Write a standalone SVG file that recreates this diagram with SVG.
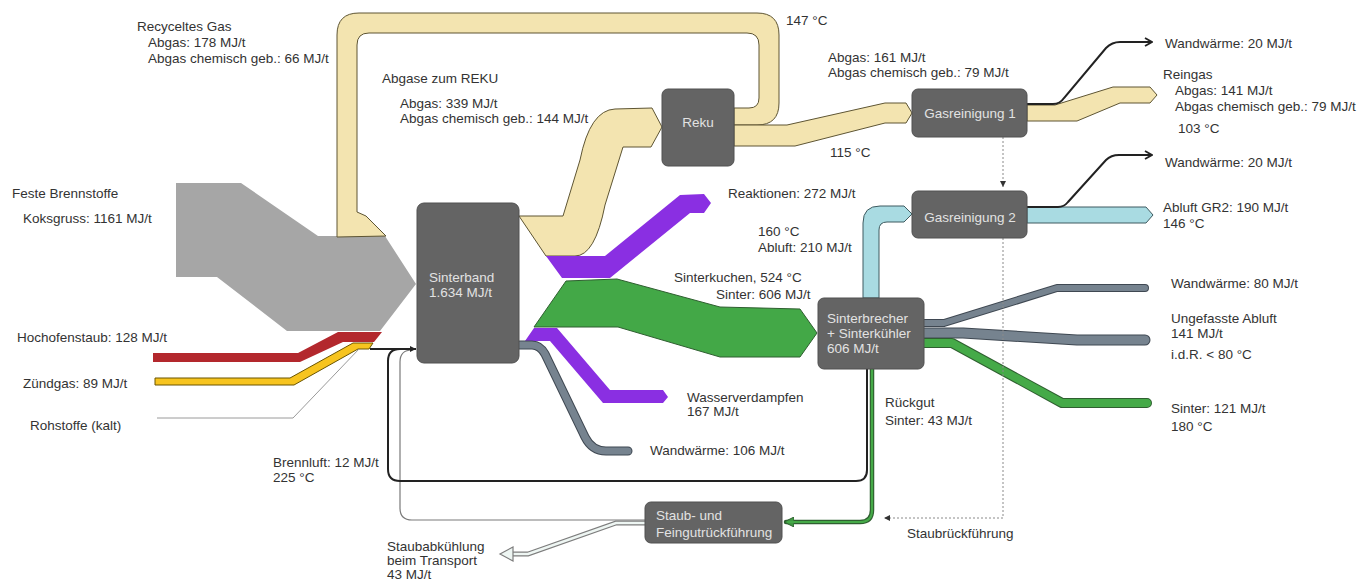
<svg xmlns="http://www.w3.org/2000/svg" width="1360" height="584" viewBox="0 0 1360 584">
  <style>
    text { font-family: "Liberation Sans", Arial, sans-serif; font-size: 13.5px; fill: #333; }
    .node rect { fill: #646464; stroke: #505050; stroke-width: 1; }
    .node text { fill: #e2e2e2; }
    .beige { fill: #f3e4b0; stroke: #5e5533; stroke-width: 1; }
    .purple { fill: #8a2fe2; }
    .green { fill: #43a847; stroke: #2f5f30; stroke-width: 1; }
    .blue { fill: #a9dbe2; stroke: #3f5b60; stroke-width: 1; }
    .slate-o { fill: none; stroke: #3f4852; stroke-linecap: round; stroke-linejoin: round; }
    .slate-i { fill: none; stroke: #76838f; stroke-linecap: round; stroke-linejoin: round; }
    .green-o { fill: none; stroke: #2f5f30; stroke-linecap: round; stroke-linejoin: round; }
    .green-i { fill: none; stroke: #45aa48; stroke-linecap: round; stroke-linejoin: round; }
    .black { fill: none; stroke: #222; stroke-width: 2; }
    .dots { fill: none; stroke: #8a8a8a; stroke-width: 1; stroke-dasharray: 2 2; }
  </style>
  <defs>
    <marker id="chev" viewBox="0 0 10 10" refX="9" refY="5" markerWidth="10" markerHeight="10" markerUnits="userSpaceOnUse" orient="auto">
      <path d="M2,1 L9,5 L2,9" fill="none" stroke="#222" stroke-width="1.8"/>
    </marker>
    <marker id="tri" viewBox="0 0 10 10" refX="10" refY="5" markerWidth="6" markerHeight="6" markerUnits="userSpaceOnUse" orient="auto">
      <path d="M0,0 L10,5 L0,10 Z" fill="#222"/>
    </marker>
    <marker id="triGrey" viewBox="0 0 10 10" refX="10" refY="5" markerWidth="6" markerHeight="6" markerUnits="userSpaceOnUse" orient="auto">
      <path d="M0,0 L10,5 L0,10 Z" fill="#333"/>
    </marker>
    <marker id="triGreen" viewBox="0 0 10 10" refX="8" refY="5" markerWidth="10" markerHeight="10" markerUnits="userSpaceOnUse" orient="auto">
      <path d="M0,0 L10,5 L0,10 Z" fill="#3f9a42" stroke="#2f5f30" stroke-width="1"/>
    </marker>
  </defs>

  <rect x="0" y="0" width="1360" height="584" fill="#ffffff"/>

  <g id="connectors">
    <!-- solid fuel inflow -->
    <polygon points="176,183 241,183 318,236 385,236 416,284 380,331 287,331 217,277 176,277" fill="#a6a6a6"/>
    <!-- recycled gas loop from Reku back into the inflow -->
    <path class="beige" d="M337 237 L337 35 Q337 13 359 13 L757 13 Q779 13 779 35 L779 103 Q779 125 757 125 L734 125 L734 108 L749 108 Q759 108 759 98 L759 45 Q759 33 747 33 L369 33 Q357 33 357 45 L357 212 L366 216 L386 236 Z"/>
    <!-- blast furnace dust -->
    <polygon points="153,353 298,353 338,332 382,332 374,342 343,342 300,362 153,362" fill="#b3282d"/>
    <!-- ignition gas -->
    <polygon points="155,378 290,378 353,343 373,343 369,349 358,349 294,385 155,385" fill="#f7c41f" stroke="#6a5500" stroke-width="1"/>
    <!-- raw materials (cold) -->
    <polyline points="157,418 293,418 359,349" fill="none" stroke="#9a9a9a" stroke-width="1"/>

    <!-- return loops into the sinter strand -->
    <path d="M645 520 L412 520 Q400 520 400 508 L400 362 Q400 350 412 350" fill="none" stroke="#7a7a7a" stroke-width="1.2"/>
    <path class="black" d="M867 369 L867 470 Q867 481 856 481 L400 481 Q388 481 388 469 L388 361 Q388 349 400 349"/>
    <path class="black" d="M370 349 L416 349" marker-end="url(#tri)"/>

    <!-- off-gas to the recuperator -->
    <path class="beige" d="M519 216 L563 216 L580 160 Q590 110 615 109 L652 108 L662 127 L651 147 L623 147 L605 205 Q595 256 575 256 L546 256 Z"/>
    <!-- reactions -->
    <polygon class="purple" points="546,256 605,256 680,195 704,194 711,203 704,213 690,213 610,278 562,278"/>
    <!-- sinter cake -->
    <polygon class="green" points="566,281 617,279 720,307 800,309 817,333 800,357 720,357 618,327 534,327"/>
    <!-- water evaporation -->
    <polygon class="purple" points="534,328 557,328 610,390 663,390 668,397 663,403 603,403 550,341 525,341"/>
    <!-- wall heat of the strand -->
    <path class="slate-o" stroke-width="9" d="M520 345 L532 345 Q540 345 545 354 L585 437 Q592 451 606 451 L628 451"/>
    <path class="slate-i" stroke-width="7" d="M520 345 L532 345 Q540 345 545 354 L585 437 Q592 451 606 451 L628 451"/>

    <!-- Reku to gas cleaning 1 -->
    <polygon class="beige" points="734,125 787,125 885,103 906,103 912,113 906,123 885,123 795,146 734,146"/>
    <!-- gas cleaning 1 outputs -->
    <polygon class="beige" points="1027,105 1055,105 1113,87 1150,87 1157,95 1150,103 1120,103 1077,121 1027,121"/>
    <path class="black" d="M1027 104 L1053 104 Q1060 104 1064 98 L1106 48 Q1112 42 1120 42 L1152 42" marker-end="url(#chev)"/>

    <!-- cooler exhaust to gas cleaning 2 -->
    <path class="blue" d="M863 298 L863 223 Q863 206 880 206 L904 206 L912 214 L904 222 L887 222 Q879 222 879 230 L879 298 Z"/>
    <!-- gas cleaning 2 outputs -->
    <polygon class="blue" points="1027,207 1146,207 1153,215 1146,223 1027,223"/>
    <path class="black" d="M1027 207 L1058 207 Q1064 207 1068 202 L1106 160 Q1111 155 1119 155 L1152 155" marker-end="url(#chev)"/>

    <!-- crusher / cooler outputs -->
    <path class="slate-o" stroke-width="8" d="M924 323 L944 323 L1057 288 L1145 288"/>
    <path class="slate-i" stroke-width="6" d="M924 323 L944 323 L1057 288 L1145 288"/>
    <path class="slate-o" stroke-width="11" d="M924 333 L963 333 L1077 340 L1145 340"/>
    <path class="slate-i" stroke-width="9" d="M924 333 L963 333 L1077 340 L1145 340"/>
    <path class="green-o" stroke-width="10" d="M924 343 L952 343 L1062 403 L1147 403"/>
    <path class="green-i" stroke-width="8" d="M924 343 L952 343 L1062 403 L1147 403"/>

    <!-- return fines to the dust recirculation -->
    <path class="green-o" stroke-width="4.5" d="M872 369 L872 510 Q872 522 860 522 L786 522" marker-end="url(#triGreen)"/>
    <path class="green-i" stroke-width="2.2" d="M872 369 L872 510 Q872 522 860 522 L788 522"/>

    <!-- dust returned from the gas cleaning -->
    <path class="dots" d="M1003 137 L1003 187" marker-end="url(#triGrey)"/>
    <path class="dots" d="M1003 238 L1003 518 L884 518" marker-end="url(#triGrey)"/>

    <!-- dust cooling during transport -->
    <path d="M645 523 L616 523 L528 554 L510 554" fill="none" stroke="#7d7d7d" stroke-width="5"/>
    <path d="M645 523 L616 523 L528 554 L508 554" fill="none" stroke="#eef6f3" stroke-width="2.6"/>
    <polygon points="513,547 500,554 513,561" fill="#eef6f3" stroke="#7d7d7d" stroke-width="1.2"/>
  </g>

  <g id="sinterband" class="node">
    <rect x="417" y="203" width="102" height="160" rx="7"/>
    <text x="429" y="282">Sinterband</text>
    <text x="429" y="297">1.634 MJ/t</text>
  </g>
  <g id="reku" class="node">
    <rect x="662" y="89" width="72" height="77" rx="6"/>
    <text x="698" y="127" text-anchor="middle">Reku</text>
  </g>
  <g id="gasreinigung-1" class="node">
    <rect x="912" y="89" width="115" height="48" rx="6"/>
    <text x="970" y="118" text-anchor="middle">Gasreinigung 1</text>
  </g>
  <g id="gasreinigung-2" class="node">
    <rect x="912" y="191" width="115" height="47" rx="6"/>
    <text x="970" y="222" text-anchor="middle">Gasreinigung 2</text>
  </g>
  <g id="sinterbrecher" class="node">
    <rect x="818" y="298" width="106" height="71" rx="6"/>
    <text x="827" y="323">Sinterbrecher</text>
    <text x="827" y="338">+ Sinterkühler</text>
    <text x="827" y="353">606 MJ/t</text>
  </g>
  <g id="staubrueckfuehrung" class="node">
    <rect x="645" y="502" width="137" height="41" rx="6"/>
    <text x="656" y="520">Staub- und</text>
    <text x="656" y="537">Feingutrückführung</text>
  </g>

  <g id="labels">
    <text x="137" y="31">Recyceltes Gas</text>
    <text x="148" y="47">Abgas: 178 MJ/t</text>
    <text x="148" y="63">Abgas chemisch geb.: 66 MJ/t</text>
    <text x="12" y="198">Feste Brennstoffe</text>
    <text x="23" y="223">Koksgruss: 1161 MJ/t</text>
    <text x="17" y="342">Hochofenstaub: 128 MJ/t</text>
    <text x="23" y="388">Zündgas: 89 MJ/t</text>
    <text x="30" y="430">Rohstoffe (kalt)</text>
    <text x="273" y="467">Brennluft: 12 MJ/t</text>
    <text x="273" y="482">225 °C</text>
    <text x="387" y="551">Staubabkühlung</text>
    <text x="387" y="565">beim Transport</text>
    <text x="387" y="579">43 MJ/t</text>

    <text x="382" y="83">Abgase zum REKU</text>
    <text x="400" y="108">Abgas: 339 MJ/t</text>
    <text x="400" y="123">Abgas chemisch geb.: 144 MJ/t</text>

    <text x="786" y="25">147 °C</text>
    <text x="828" y="62">Abgas: 161 MJ/t</text>
    <text x="828" y="77">Abgas chemisch geb.: 79 MJ/t</text>
    <text x="830" y="157">115 °C</text>

    <text x="1165" y="48">Wandwärme: 20 MJ/t</text>
    <text x="1163" y="79">Reingas</text>
    <text x="1175" y="95">Abgas: 141 MJ/t</text>
    <text x="1175" y="111">Abgas chemisch geb.: 79 MJ/t</text>
    <text x="1178" y="133">103 °C</text>
    <text x="1165" y="167">Wandwärme: 20 MJ/t</text>
    <text x="1163" y="212">Abluft GR2: 190 MJ/t</text>
    <text x="1163" y="228">146 °C</text>

    <text x="728" y="198">Reaktionen: 272 MJ/t</text>
    <text x="758" y="236">160 °C</text>
    <text x="758" y="252">Abluft: 210 MJ/t</text>
    <text x="674" y="282">Sinterkuchen, 524 °C</text>
    <text x="716" y="299">Sinter: 606 MJ/t</text>
    <text x="687" y="402">Wasserverdampfen</text>
    <text x="687" y="416">167 MJ/t</text>
    <text x="650" y="455">Wandwärme: 106 MJ/t</text>

    <text x="1171" y="288">Wandwärme: 80 MJ/t</text>
    <text x="1171" y="323">Ungefasste Abluft</text>
    <text x="1171" y="338">141 MJ/t</text>
    <text x="1171" y="359">i.d.R. &lt; 80 °C</text>
    <text x="1171" y="413">Sinter: 121 MJ/t</text>
    <text x="1171" y="431">180 °C</text>
    <text x="885" y="407">Rückgut</text>
    <text x="885" y="425">Sinter: 43 MJ/t</text>
    <text x="907" y="538">Staubrückführung</text>
  </g>
</svg>
